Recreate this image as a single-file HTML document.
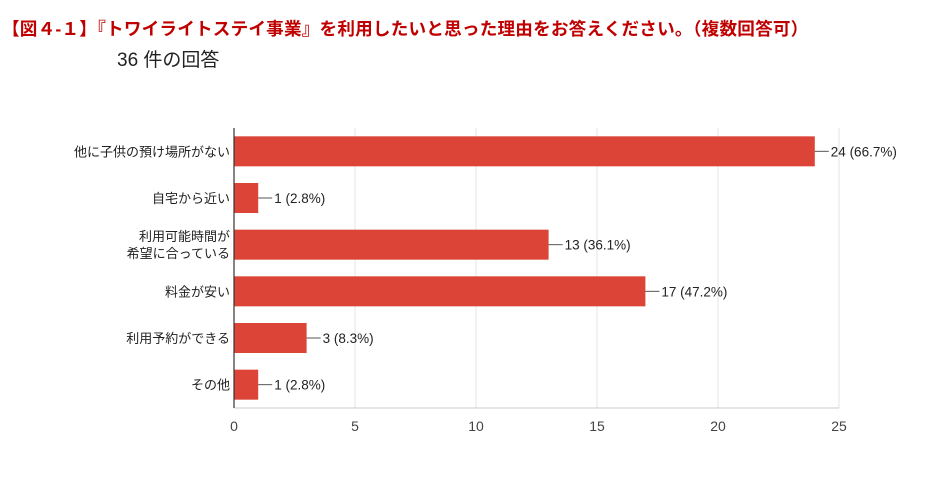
<!DOCTYPE html>
<html><head><meta charset="utf-8">
<style>
body{margin:0;width:934px;height:504px;background:#fff;overflow:hidden;font-family:"Liberation Sans","Noto Sans CJK JP",sans-serif;}
#title{position:absolute;left:2px;top:16px;font-size:17.6px;font-weight:bold;color:#c00000;white-space:nowrap;letter-spacing:0.2px}
#count{position:absolute;left:117px;top:45px;font-size:19px;color:#222;white-space:nowrap}
svg{position:absolute;left:0;top:0}
</style></head><body>
<div id="title">【図４-１】『トワイライトステイ事業』を利用したいと思った理由をお答えください。（複数回答可）</div>
<div id="count">36 件の回答</div>
<svg id="chart" width="934" height="504"></svg>
<script>
const categories=[["他に子供の預け場所がない"],["自宅から近い"],["利用可能時間が","希望に合っている"],["料金が安い"],["利用予約ができる"],["その他"]];
const values=[24,1,13,17,3,1];
const percents=["66.7%","2.8%","36.1%","47.2%","8.3%","2.8%"];
const ticks=[0,5,10,15,20,25];
const NS="http://www.w3.org/2000/svg";
const svg=document.getElementById('chart');
const x0=234,x1=839,yTop=128,yBottom=408,maxV=25;
const xs=v=>x0+(x1-x0)*v/maxV;
const band=(yBottom-yTop)/categories.length;
const ys=i=>yTop+band*(i+0.5);
function mk(t,a){const e=document.createElementNS(NS,t);for(const k in a)e.setAttribute(k,a[k]);svg.appendChild(e);return e;}
ticks.forEach(t=>{
 if(t>0){const g=mk('line',{x1:xs(t),x2:xs(t),y1:yTop,y2:yBottom,stroke:'#e6e6e6'});
 
 }
 const l=mk('text',{x:xs(t),y:431,'text-anchor':'middle','font-size':14,fill:'#444'});
 l.textContent=t;
 
 
});
mk('line',{x1:x0,x2:xs(maxV),y1:yBottom,y2:yBottom,stroke:'#ccc'});
values.forEach((v,i)=>{
 const y=ys(i);
 const r=mk('rect',{x:x0,y:y-15,width:xs(v)-x0,height:30,fill:'#db4437'});
 
 
 mk('line',{x1:xs(v),x2:xs(v)+14,y1:y,y2:y,stroke:'#555'});
 const t=mk('text',{x:xs(v)+16,y:y+5,'font-size':13.5,fill:'#222'});
 t.textContent=v+' ('+percents[i]+')';
 
 
 const lines=categories[i];
 lines.forEach((s,j)=>{
  const c=mk('text',{x:230,y:y+5+(j-(lines.length-1)/2)*17,'text-anchor':'end','font-size':13,fill:'#222'});
  c.textContent=s;
  
  
 });
});
const ax=mk('line',{x1:x0,x2:x0,y1:yTop,y2:yBottom,stroke:'#333','stroke-width':1.2});


</script>
</body></html>
